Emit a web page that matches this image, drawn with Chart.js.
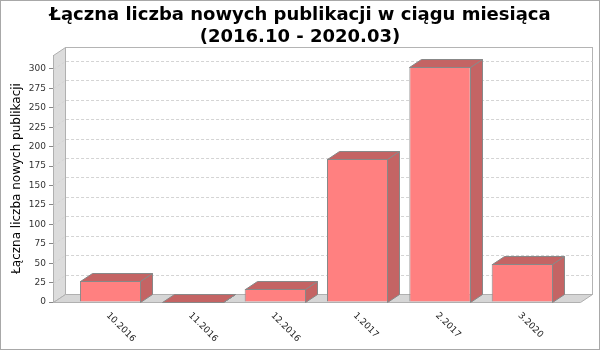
<!DOCTYPE html>
<html>
<head>
<meta charset="utf-8">
<script src="https://cdn.jsdelivr.net/npm/chart.js@4.4.0/dist/chart.umd.min.js"></script>
<style>
body { margin: 0; background: #fff; }
canvas { display: block; }
</style>
</head>
<body>
<canvas id="myChart" width="600" height="350"></canvas>
<script>
var labels = ['10.2016', '11.2016', '12.2016', '1.2017', '2.2017', '3.2020'];
var values = [27, 0, 17, 184, 303, 49];
var yTicks = [0, 25, 50, 75, 100, 125, 150, 175, 200, 225, 250, 275, 300];
var chartTitle = ['Łączna liczba nowych publikacji w ciągu miesiąca', '(2016.10 - 2020.03)'];
var yTitle = 'Łączna liczba nowych publikacji';

// depth of the fake 3d look
var depthX = 12;
var depthY = 8;

Chart.defaults.font.family = 'DejaVu Sans';

function poly(ctx, pts, fill, stroke) {
    ctx.beginPath();
    ctx.moveTo(pts[0][0], pts[0][1]);
    for (let i = 1; i < pts.length; i++) {
        ctx.lineTo(pts[i][0], pts[i][1]);
    }
    ctx.closePath();
    if (fill) { ctx.fillStyle = fill; ctx.fill(); }
    if (stroke) { ctx.strokeStyle = stroke; ctx.lineWidth = 1; ctx.stroke(); }
}

var box3d = {
    id: 'box3d',
    beforeDraw: function (chart) {
        var ctx = chart.ctx;
        ctx.save();
        ctx.fillStyle = '#fff';
        ctx.fillRect(0, 0, chart.width, chart.height);
        ctx.strokeStyle = '#a8a8a8';
        ctx.strokeRect(0.5, 0.5, chart.width - 1, chart.height - 1);
        ctx.restore();
    },
    beforeDatasetsDraw: function (chart) {
        var ctx = chart.ctx;
        var a = chart.chartArea;
        var l = Math.round(a.left) + 0.5, r = Math.round(a.right) + 0.5;
        var t = Math.round(a.top) + 0.5, b = Math.round(a.bottom) + 0.5;
        ctx.save();
        // back plane
        ctx.strokeStyle = '#b4b4b4';
        ctx.strokeRect(l + depthX, t - depthY, r - l, b - t);
        // left wall
        poly(ctx, [[l, t], [l + depthX, t - depthY], [l + depthX, b - depthY], [l, b]], '#dcdcdc', '#b0b0b0');
        // floor
        poly(ctx, [[l, b], [l + depthX, b - depthY], [r + depthX, b - depthY], [r, b]], '#d6d6d6', '#b0b0b0');
        // dashed grid lines on the back plane and wall
        var ys = chart.scales.y;
        ctx.setLineDash([3, 2]);
        ctx.strokeStyle = '#d4d4d4';
        for (let i = 1; i < yTicks.length; i++) {
            var py = Math.round(ys.getPixelForValue(yTicks[i])) + 0.5;
            ctx.beginPath();
            ctx.moveTo(l, py);
            ctx.lineTo(l + depthX, py - depthY);
            ctx.lineTo(r + depthX, py - depthY);
            ctx.stroke();
        }
        ctx.restore();
    },
    afterDatasetsDraw: function (chart) {
        var ctx = chart.ctx;
        var meta = chart.getDatasetMeta(0);
        ctx.save();
        meta.data.forEach(function (el) {
            var left = Math.round(el.x - el.width / 2) + 0.5;
            var right = Math.round(el.x + el.width / 2) - 0.5;
            var top = Math.round(Math.min(el.y, el.base)) + 0.5;
            var bottom = Math.round(el.base) + 0.5;
            // side face
            poly(ctx, [[right, top], [right + depthX, top - depthY], [right + depthX, bottom - depthY], [right, bottom]], '#c46464', '#888');
            // top face
            poly(ctx, [[left, top], [left + depthX, top - depthY], [right + depthX, top - depthY], [right, top]], '#c46464', '#888');
        });
        // rotated category labels
        var xs = chart.scales.x;
        ctx.fillStyle = '#222';
        ctx.font = '9px "DejaVu Sans"';
        ctx.textAlign = 'left';
        ctx.textBaseline = 'middle';
        for (let i = 0; i < labels.length; i++) {
            ctx.save();
            ctx.translate(xs.getPixelForValue(i) - 3, chart.chartArea.bottom + 12);
            ctx.rotate(Math.PI / 4);
            ctx.fillText(labels[i], 0, 0);
            ctx.restore();
        }
        ctx.restore();
    }
};

var ctx = document.getElementById('myChart');
var chart = new Chart(ctx, {
    type: 'bar',
    data: {
        datasets: [
            {
                label: 'Publikacje',
                data: values.map(function (v, i) { return { x: i, y: v }; }),
                backgroundColor: '#ff8080',
                borderColor: '#888',
                borderWidth: 1,
                barPercentage: 0.745,
                categoryPercentage: 1
            }
        ]
    },
    options: {
        responsive: false,
        animation: false,
        layout: { padding: 0 },
        scales: {
            x: {
                type: 'linear',
                offset: false,
                min: -0.7,
                max: 5.7,
                afterBuildTicks: function (scale) {
                    scale.ticks = labels.map(function (l, i) { return { value: i }; });
                },
                ticks: { display: false },
                grid: { display: false, offset: false },
                border: { display: false },
                afterFit: function (scale) { scale.height = 48; }
            },
            y: {
                min: 0,
                max: 318,
                afterBuildTicks: function (scale) {
                    scale.ticks = yTicks.map(function (v) { return { value: v }; });
                },
                ticks: { font: { size: 9 }, color: '#333', padding: 3 },
                grid: { drawOnChartArea: false, tickLength: 4, color: '#888' },
                border: { color: '#888' },
                title: {
                    display: true,
                    text: yTitle,
                    color: '#000',
                    font: { size: 12 },
                    padding: { top: 10, bottom: 0 }
                },
                afterFit: function (scale) { scale.width = 53; }
            },
            // empty strip on the right, keeps the title centred on the whole canvas
            yRight: {
                position: 'right',
                ticks: { display: false },
                grid: { display: false },
                border: { display: false },
                afterFit: function (scale) { scale.width = 20; }
            }
        },
        plugins: {
            legend: { display: false },
            tooltip: { enabled: false },
            title: {
                display: true,
                text: chartTitle,
                color: '#000',
                font: { size: 18, weight: 'bold', lineHeight: 1.25 },
                padding: { top: 4, bottom: 6 }
            }
        }
    },
    plugins: [box3d]
});
</script>
</body>
</html>
